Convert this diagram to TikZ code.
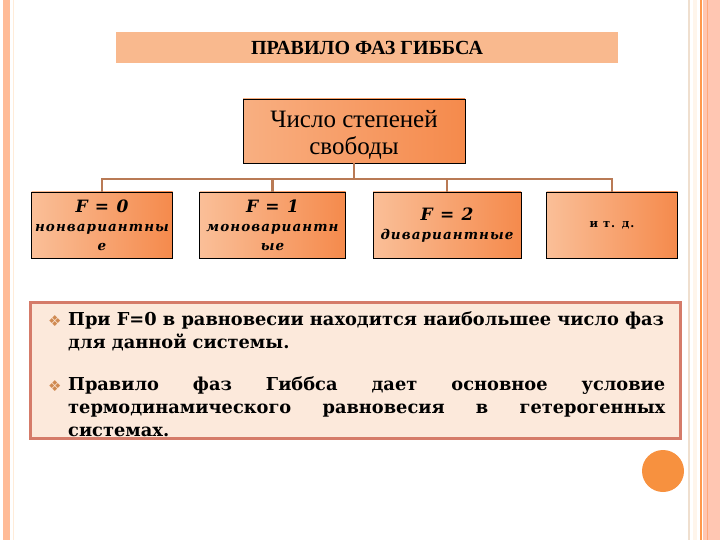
\documentclass[tikz,border=0pt]{standalone}
\usepackage{fontspec}
\setmainfont{Liberation Serif}
\newfontfamily\bodyfont{DejaVu Serif}
\newfontfamily\boxfont{DejaVu Serif}[LetterSpace=8]
\newfontfamily\symfont{DejaVu Sans}
\usetikzlibrary{positioning}
\definecolor{peach}{HTML}{F9B98E}
\definecolor{lightor}{HTML}{FABF98}
\definecolor{darkor}{HTML}{F58A4C}
\definecolor{linkcol}{HTML}{B97A55}
\definecolor{frame}{HTML}{D57B69}
\definecolor{paper}{HTML}{FCE9DB}
\definecolor{dot}{HTML}{F7913F}
\definecolor{stripe}{HTML}{FFC6B2}
\definecolor{bullet}{HTML}{D08A52}

\tikzset{
  gbox/.style={draw=black,line width=0.8pt,left color=lightor,right color=darkor,
    minimum height=66pt,inner sep=2pt,align=center,
    font=\boxfont\bfseries\itshape\fontsize{13.5}{19}\selectfont},
  link/.style={draw=linkcol,line width=2.2pt},
  para/.style={anchor=north west,text width=597pt,align=justify,inner sep=0pt,
    font=\bodyfont\bfseries\fontsize{17.8}{23}\selectfont},
  bulletmark/.style={text=bullet,font=\symfont\fontsize{15}{15}\selectfont}
}

\begin{document}
\begin{tikzpicture}[x=1pt,y=-1pt]
\useasboundingbox (0,0) rectangle (720,540);
% page edges
\fill[stripe!85!orange] (3,0) rectangle (10,540);
\draw[orange!15,line width=1pt] (13,0) -- (13,540);
\draw[brown!25,line width=1.2pt] (689,0) -- (689,540);
\fill[orange!8] (693,0) rectangle (697,540);
\draw[orange!60!pink,line width=1.2pt] (701,0) -- (701,540);
\fill[stripe] (703,0) rectangle (720,540);
\draw[orange!35!pink,line width=1pt] (707,0) -- (707,540);

% title and top box
\node[fill=peach,minimum width=502pt,minimum height=31pt,
  font=\bfseries\fontsize{20}{22}\selectfont] (title) at (367,47.5) {ПРАВИЛО ФАЗ ГИББСА};
\node[draw=black,line width=0.8pt,left color=lightor!70!darkor,right color=darkor,
  minimum width=222pt,minimum height=64pt,inner sep=0pt,
  font=\fontsize{25}{27}\selectfont] (top) at (354,131)
  {\raisebox{-5pt}[\height][\depth]{\begin{tabular}{@{}c@{}}Число степеней\\свободы\end{tabular}}};
\coordinate (hub) at (354,179);

% degrees of freedom
\foreach \i/\x/\w/\txt in {
1/102/141/{{\fontsize{17}{21}\selectfont F = 0}\\нонвариантны\\е},
2/272.5/146/{{\fontsize{17}{21}\selectfont F = 1}\\моновариантн\\ые},
3/447/148/{{\fontsize{17}{21}\selectfont F = 2}\\дивариантные},
4/612/131/{\upshape\fontsize{11.5}{13}\selectfont и т. д.}}
{
  \node[gbox,minimum width=\w pt] (k\i) at (\x,225) {\txt};
}
\draw[link] (top) -- (hub);
\foreach \i in {1,...,4}{\draw[link] (hub) -| (k\i);}

% notes
\node[fill=paper,minimum width=649pt,minimum height=135pt] (notes) at (355.5,370.5) {};
\node[para] (p1) at (68,311) {При F=0 в равновесии находится наибольшее число фаз\\для данной системы.};
\node[para] (p2) at (68,376) {Правило фаз Гиббса дает основное условие\linebreak
  термодинамического равновесия в гетерогенных\linebreak системах.};
\node[bulletmark,left=3pt of p1.north west,anchor=north east,yshift=-1pt] (b1) {❖};
\node[bulletmark,left=3pt of p2.north west,anchor=north east,yshift=-1pt] (b2) {❖};
\draw[frame,line width=3pt] (notes.north west) rectangle (notes.south east);

\node[circle,fill=dot,minimum size=42pt,inner sep=0pt] (ball) at (663,471) {};
\end{tikzpicture}
\end{document}
